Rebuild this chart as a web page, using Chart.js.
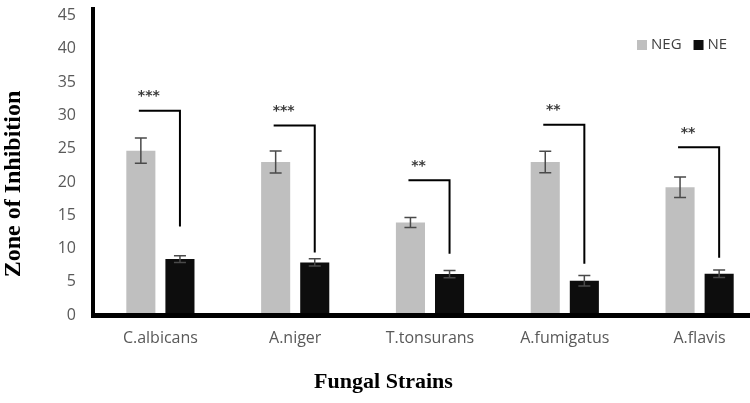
<!DOCTYPE html>
<html>
<head>
<meta charset="utf-8">
<script src="https://cdn.jsdelivr.net/npm/chart.js@4/dist/chart.umd.min.js"></script>
<style>
  html, body { margin: 0; padding: 0; background: #fff; overflow: hidden; width: 750px; height: 403px; }
  canvas { display: block; }
</style>
</head>
<body>
<canvas id="c" width="767" height="403" style="width:767px;height:403px"></canvas>
<script>
const categories = ['C.albicans', 'A.niger', 'T.tonsurans', 'A.fumigatus', 'A.flavis'];
const seriesNames = ['NEG', 'NE'];
const negValues = [24.7, 23.0, 13.9, 23.0, 19.2];
const negErrors = [1.9, 1.65, 0.75, 1.6, 1.55];
const neValues = [8.4, 7.9, 6.15, 5.15, 6.2];
const neErrors = [0.5, 0.55, 0.55, 0.8, 0.55];
const sigLabels = ['***', '***', '**', '**', '**'];
const bracketTops = [30.7, 28.5, 20.25, 28.6, 25.2];
const bracketBottoms = [13.3, 9.4, 9.2, 7.7, 8.6];
const yTitle = 'Zone of Inhibition';
const xTitle = 'Fungal Strains';

const errorsByDataset = [negErrors, neErrors];

const extrasPlugin = {
  id: 'extras',
  afterDatasetsDraw(chart) {
    const ctx = chart.ctx;
    const y = chart.scales.y;
    ctx.save();
    chart.data.datasets.forEach((ds, di) => {
      const meta = chart.getDatasetMeta(di);
      meta.data.forEach((bar, i) => {
        const v = ds.data[i], e = errorsByDataset[di][i];
        const yt = y.getPixelForValue(v + e), yb = y.getPixelForValue(v - e);
        ctx.strokeStyle = '#4a4a4a';
        ctx.lineWidth = 1.5;
        ctx.beginPath();
        ctx.moveTo(bar.x, yt); ctx.lineTo(bar.x, yb);
        ctx.moveTo(bar.x - 6, yt); ctx.lineTo(bar.x + 6, yt);
        ctx.moveTo(bar.x - 6, yb); ctx.lineTo(bar.x + 6, yb);
        ctx.stroke();
      });
    });
    const m0 = chart.getDatasetMeta(0), m1 = chart.getDatasetMeta(1);
    categories.forEach((c, i) => {
      const xl = m0.data[i].x - 2, xr = m1.data[i].x;
      const yt = y.getPixelForValue(bracketTops[i]);
      const yb = y.getPixelForValue(bracketBottoms[i]);
      ctx.strokeStyle = '#000';
      ctx.lineWidth = 2;
      ctx.beginPath();
      ctx.moveTo(xl, yt); ctx.lineTo(xr, yt); ctx.lineTo(xr, yb);
      ctx.stroke();
      ctx.fillStyle = '#3a3a3a';
      ctx.font = 'bold 14px "DejaVu Sans"';
      ctx.textAlign = 'center';
      ctx.textBaseline = 'middle';
      ctx.fillText(sigLabels[i], m0.data[i].x + 8, yt - 14);
    });
    ctx.restore();
  },
  afterDraw(chart) {
    const ctx = chart.ctx;
    ctx.save();
    ctx.translate(14, 184);
    ctx.rotate(-Math.PI / 2);
    ctx.fillStyle = '#000';
    ctx.font = 'bold 24px "Liberation Serif"';
    ctx.textAlign = 'center';
    ctx.textBaseline = 'middle';
    ctx.fillText(yTitle, 0, 0);
    ctx.restore();
    ctx.save();
    ctx.font = '15px "Open Sans"';
    ctx.textBaseline = 'middle';
    ctx.textAlign = 'left';
    let x = 637;
    const ly = 45;
    chart.data.datasets.forEach((ds) => {
      ctx.fillStyle = ds.backgroundColor;
      ctx.fillRect(x, ly - 5, 10, 10);
      ctx.fillStyle = '#404040';
      ctx.fillText(ds.label, x + 14, ly);
      x += 14 + ctx.measureText(ds.label).width + 12;
    });
    ctx.restore();
  }
};

new Chart(document.getElementById('c'), {
  type: 'bar',
  data: {
    labels: categories,
    datasets: [
      { label: seriesNames[0], data: negValues, backgroundColor: '#bfbfbf', categoryPercentage: 0.58, barPercentage: 0.744 },
      { label: seriesNames[1], data: neValues, backgroundColor: '#0d0d0d', categoryPercentage: 0.58, barPercentage: 0.744 }
    ]
  },
  options: {
    responsive: false,
    animation: false,
    devicePixelRatio: 1,
    layout: { padding: { left: 0, right: 0, top: 9, bottom: 0 } },
    plugins: {
      legend: { display: false },
      tooltip: { enabled: false },
      title: {
        display: true,
        text: xTitle,
        position: 'bottom',
        color: '#000',
        font: { family: 'Liberation Serif', size: 22, weight: 'bold' },
        padding: { top: 0, bottom: 7 }
      }
    },
    scales: {
      x: {
        grid: { display: false, drawTicks: false },
        border: { display: true, color: '#000', width: 5, z: 1 },
        ticks: { color: '#595959', font: { family: 'Open Sans', size: 16 }, padding: 14 },
        afterFit(s) { s.height = 54.6; s.paddingLeft = 0; s.paddingRight = 0; }
      },
      y: {
        min: 0,
        max: 46,
        grid: { display: false, drawTicks: false },
        border: { display: true, color: '#000', width: 4, z: 1 },
        ticks: { stepSize: 5, includeBounds: false, color: '#595959', font: { family: 'Open Sans', size: 16 }, padding: 17 },
        afterFit(s) { s.width = 93; s.paddingTop = 0; s.paddingBottom = 0; }
      }
    }
  },
  plugins: [extrasPlugin]
});
</script>
</body>
</html>
